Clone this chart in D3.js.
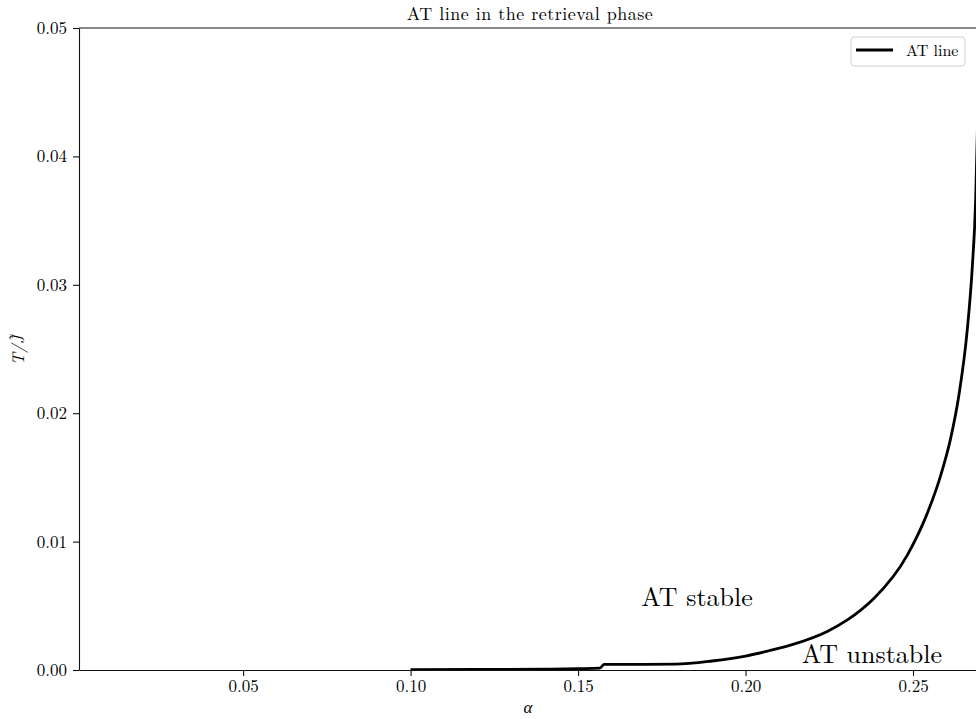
<!DOCTYPE html>
<html>
<head>
<meta charset="utf-8">
<script src="https://cdn.jsdelivr.net/npm/d3@7"></script>
<style>
  body { margin: 0; background: #fff; }
  svg { font-family: "Latin Modern Roman", "Liberation Serif", "DejaVu Serif", serif; }
</style>
</head>
<body>
<main></main>
<script>
// AT line values
const alpha = [0.100, 0.120, 0.140, 0.150, 0.1565, 0.1578, 0.170, 0.179, 0.190, 0.200,
               0.207, 0.2144, 0.2244, 0.2304, 0.2343, 0.2383, 0.2483, 0.2541, 0.2582,
               0.2612, 0.2637, 0.2662, 0.2677, 0.2687, 0.2692, 0.2700];
const temp = [0.00002, 0.00004, 0.00007, 0.0001, 0.00014, 0.00044, 0.00044, 0.00045, 0.0007, 0.00109,
              0.0015, 0.00201, 0.0030, 0.0039, 0.00465, 0.00557, 0.00895, 0.0121, 0.0151,
              0.0180, 0.0214, 0.0265, 0.0314, 0.0366, 0.0418, 0.052];
const xTicks = [0.05, 0.10, 0.15, 0.20, 0.25];
const yTicks = [0.00, 0.01, 0.02, 0.03, 0.04, 0.05];

const width = 976;
const height = 719;
const plotLeft = 79, plotRight = 980, plotTop = 28, plotBottom = 670;

var svg = d3.select("main")
  .append("svg")
  .attr("width", width)
  .attr("height", height);

const xScale = d3.scaleLinear()
  .domain([0.001, 0.27])
  .range([plotLeft, plotRight]);

const yScale = d3.scaleLinear()
  .domain([0, 0.05])
  .range([plotBottom, plotTop]);

// clip for the plotting area
svg.append("clipPath")
  .attr("id", "plot-clip")
  .append("rect")
  .attr("x", plotLeft)
  .attr("y", plotTop)
  .attr("width", plotRight - plotLeft)
  .attr("height", plotBottom - plotTop);

const data = alpha.map((a, i) => ({ a: a, t: temp[i] }));

const line = d3.line()
  .x(d => xScale(d.a))
  .y(d => yScale(d.t))
  .curve(d3.curveMonotoneX);

svg.append("path")
  .datum(data)
  .attr("clip-path", "url(#plot-clip)")
  .attr("fill", "none")
  .attr("stroke", "#000")
  .attr("stroke-width", 2.8)
  .attr("stroke-linejoin", "round")
  .attr("d", line);

// axes
var x_axis = d3.axisBottom(xScale)
  .tickValues(xTicks)
  .tickFormat(d3.format(".2f"))
  .tickSize(6)
  .tickPadding(4)
  .tickSizeOuter(0);

var gx = svg.append("g")
  .attr("id", "x-axis")
  .attr("transform", "translate(0," + plotBottom + ")")
  .call(x_axis);

var y_axis = d3.axisLeft(yScale)
  .tickValues(yTicks)
  .tickFormat(d3.format(".2f"))
  .tickSize(6)
  .tickPadding(6)
  .tickSizeOuter(0);

var gy = svg.append("g")
  .attr("id", "y-axis")
  .attr("transform", "translate(" + plotLeft + ",0)")
  .call(y_axis);

[gx, gy].forEach(g => {
  g.selectAll("path, line").attr("stroke", "#111").attr("stroke-width", 1.1);
  g.selectAll("text")
    .attr("fill", "#000")
    .style("font-family", "\"Latin Modern Roman\", \"Liberation Serif\", serif")
    .style("font-size", "17px");
});

// top and right spines
svg.append("line")
  .attr("x1", plotLeft).attr("x2", plotRight)
  .attr("y1", plotTop).attr("y2", plotTop)
  .attr("stroke", "#111").attr("stroke-width", 1.1);
svg.append("line")
  .attr("x1", plotRight).attr("x2", plotRight)
  .attr("y1", plotTop).attr("y2", plotBottom)
  .attr("stroke", "#111").attr("stroke-width", 1.1);

// title
svg.append("text")
  .attr("x", 530)
  .attr("y", 20)
  .attr("text-anchor", "middle")
  .style("font-size", "18px")
  .style("letter-spacing", "0.5px")
  .text("AT line in the retrieval phase");

// axis labels
svg.append("text")
  .attr("x", 528)
  .attr("y", 713)
  .attr("text-anchor", "middle")
  .style("font-size", "17px")
  .style("font-style", "italic")
  .text("α");

var ylab = svg.append("text")
  .attr("transform", "translate(24," + (plotTop + plotBottom) / 2 + ") rotate(-90)")
  .attr("text-anchor", "middle")
  .attr("fill", "#000")
  .style("font-size", "17px")
  .style("font-style", "italic");
ylab.append("tspan").text("T/J");
ylab.append("tspan").attr("dx", -6).attr("dy", -3).style("font-style", "normal").text("\u02DC");

// region annotations
svg.append("text")
  .attr("x", xScale(0.1689))
  .attr("y", yScale(0.00497))
  .style("font-size", "26px")
  .text("AT stable");

svg.append("text")
  .attr("x", xScale(0.2168))
  .attr("y", yScale(0.00057))
  .style("font-size", "26px")
  .text("AT unstable");

// legend
var legend = svg.append("g").attr("id", "legend");
legend.append("rect")
  .attr("x", 851).attr("y", 37)
  .attr("width", 114).attr("height", 29)
  .attr("rx", 3)
  .attr("fill", "#fff")
  .attr("fill-opacity", 0.8)
  .attr("stroke", "#d0d0d0");
legend.append("line")
  .attr("x1", 856).attr("x2", 893)
  .attr("y1", 50).attr("y2", 50)
  .attr("stroke", "#000")
  .attr("stroke-width", 2.8);
legend.append("text")
  .attr("x", 906)
  .attr("y", 56)
  .style("font-size", "16px")
  .text("AT line");
</script>
</body>
</html>
